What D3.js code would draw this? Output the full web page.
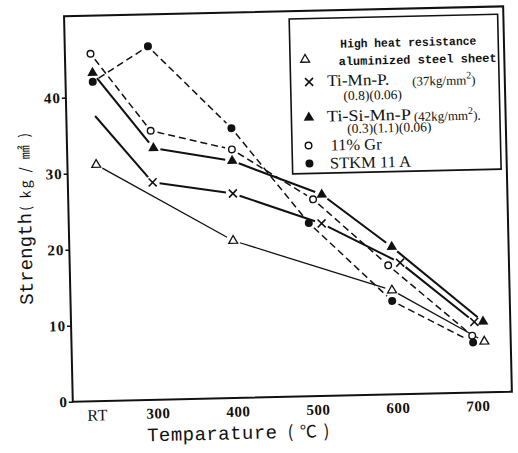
<!DOCTYPE html>
<html>
<head>
<meta charset="utf-8">
<script src="https://cdn.jsdelivr.net/npm/d3@7"></script>
<style>
  body { margin: 0; background: #fff; }
</style>
</head>
<body>
<div id="chart"></div>
<script>
// ---- data ----
const tempTicks = [224, 300, 400, 500, 600, 700];
const tempLabels = ["RT", "300", "400", "500", "600", "700"];
const strengthTicks = [0, 10, 20, 30, 40];

// High heat resistance aluminized steel sheet (open triangle)
const alumTemps = [230, 399, 596, 710];
const alumValues = [31.1, 20.7, 13.7, 6.7];
// Ti-Mn-P (cross), the RT end has no symbol in the figure
const tiMnPTemps = [230, 300, 400, 510, 607, 698];
const tiMnPValues = [37.5, 28.6, 26.9, 22.7, 17.3, 9.3];
const tiMnPMarked = [false, true, true, true, true, true];
// Ti-Si-Mn-P (filled triangle)
const tiSiTemps = [228, 302, 400, 511, 597, 709];
const tiSiValues = [43.2, 33.1, 31.2, 26.5, 19.4, 9.3];
// 11% Gr (open circle)
const grTemps = [226, 299, 400, 500, 592, 695];
const grValues = [45.7, 35.4, 32.7, 25.9, 17.0, 7.5];
// STKM 11 A (filled circle)
const stkmTemps = [228, 298, 400, 494, 596, 696];
const stkmValues = [42.0, 46.5, 35.5, 22.8, 12.3, 6.6];

const series = [
  { key: "alum", temps: alumTemps, values: alumValues, mark: "triOpen", dash: null, width: 1.3 },
  { key: "tiMnP", temps: tiMnPTemps, values: tiMnPValues, mark: "cross", dash: null, width: 2, marked: tiMnPMarked },
  { key: "tiSi", temps: tiSiTemps, values: tiSiValues, mark: "triFill", dash: null, width: 2.1 },
  { key: "gr", temps: grTemps, values: grValues, mark: "circOpen", dash: "7,4", width: 1.5 },
  { key: "stkm", temps: stkmTemps, values: stkmValues, mark: "circFill", dash: "7,4", width: 1.5 }
];

const W = 518, H = 453;

const svgRoot = d3.select("#chart")
  .append("svg")
  .attr("width", W)
  .attr("height", H);

// the scanned figure sits slightly tilted
const svg = svgRoot.append("g")
  .attr("transform", "rotate(-1.3, 288, 210)");

const x = d3.scaleLinear().domain([194, 743]).range([68.5, 507.7]);
const y = d3.scaleLinear().domain([0, 50.7]).range([396.8, 11.3]);

// Y axis
const yAxis = svg.append("g")
  .attr("transform", `translate(${x.range()[0]},0)`)
  .call(d3.axisLeft(y).tickValues(strengthTicks).tickSize(4).tickPadding(1).tickFormat(d3.format("d")));
yAxis.select(".domain").remove();
yAxis.selectAll("line").attr("stroke", "#111").attr("stroke-width", 1.6);
yAxis.selectAll("text")
  .attr("fill", "#111")
  .style("font-family", "'Liberation Serif', serif")
  .style("font-weight", "bold")
  .style("font-size", "15px")
  .style("letter-spacing", "1px");

// X axis (no tick marks in the original)
const xAxis = svg.append("g")
  .attr("transform", `translate(0,${y(0)})`)
  .call(d3.axisBottom(x).tickValues(tempTicks).tickSize(0).tickPadding(8)
    .tickFormat((d, i) => tempLabels[i]));
xAxis.select(".domain").remove();
xAxis.selectAll("text")
  .attr("fill", "#111")
  .style("font-family", "'Liberation Serif', serif")
  .style("font-weight", (d, i) => i === 0 ? "normal" : "bold")
  .style("font-size", (d, i) => i === 0 ? "16px" : "15px")
  .style("letter-spacing", "0.5px");

// frame
svg.append("rect")
  .attr("x", x.range()[0])
  .attr("y", y.range()[1])
  .attr("width", x.range()[1] - x.range()[0])
  .attr("height", y.range()[0] - y.range()[1])
  .attr("fill", "none")
  .attr("stroke", "#111")
  .attr("stroke-width", 2);

// symbol drawing
function drawMark(g, kind, cx, cy) {
  if (kind === "triOpen") {
    g.append("path").attr("d", d3.symbol(d3.symbolTriangle, 34)())
      .attr("transform", `translate(${cx},${cy})`)
      .attr("fill", "#fff").attr("stroke", "#111").attr("stroke-width", 1.3);
  } else if (kind === "triFill") {
    g.append("path").attr("d", d3.symbol(d3.symbolTriangle, 48)())
      .attr("transform", `translate(${cx},${cy})`)
      .attr("fill", "#111");
  } else if (kind === "circOpen") {
    g.append("circle").attr("cx", cx).attr("cy", cy).attr("r", 3.3)
      .attr("fill", "#fff").attr("stroke", "#111").attr("stroke-width", 1.4);
  } else if (kind === "circFill") {
    g.append("circle").attr("cx", cx).attr("cy", cy).attr("r", 4)
      .attr("fill", "#111");
  } else if (kind === "cross") {
    const s = 4;
    g.append("path")
      .attr("d", `M${cx - s},${cy - s}L${cx + s},${cy + s}M${cx - s},${cy + s}L${cx + s},${cy - s}`)
      .attr("stroke", "#111").attr("stroke-width", 1.6).attr("fill", "none");
  }
}

// lines drawn as separate segments that stop short of the symbols
const gap = 7;
series.forEach(function (s) {
  const g = svg.append("g");
  const pts = s.temps.map((t, i) => [x(t), y(s.values[i])]);
  const marked = s.marked || s.temps.map(() => true);
  for (let i = 0; i < pts.length - 1; i++) {
    const [x0, y0] = pts[i];
    const [x1, y1] = pts[i + 1];
    const len = Math.hypot(x1 - x0, y1 - y0);
    const ux = (x1 - x0) / len, uy = (y1 - y0) / len;
    const g0 = marked[i] ? gap : 0;
    const g1 = marked[i + 1] ? gap : 0;
    g.append("line")
      .attr("x1", x0 + ux * g0).attr("y1", y0 + uy * g0)
      .attr("x2", x1 - ux * g1).attr("y2", y1 - uy * g1)
      .attr("stroke", "#111")
      .attr("stroke-width", s.width)
      .attr("stroke-dasharray", s.dash);
  }
  pts.forEach(function (p, i) {
    if (marked[i]) drawMark(g, s.mark, p[0], p[1]);
  });
});

// axis titles
const xTitle = svg.append("text")
  .attr("x", 142)
  .attr("y", 438)
  .attr("fill", "#111")
  .style("font-family", "'Liberation Mono', monospace")
  .style("font-size", "19px");
xTitle.append("tspan").attr("textLength", 130).text("Temparature");
xTitle.append("tspan")
  .attr("dx", 10)
  .attr("textLength", 42)
  .style("font-family", "'Noto Sans CJK JP', 'Liberation Serif', serif")
  .style("font-size", "17px")
  .text("( ℃ )");

const yTitle = svg.append("text")
  .attr("transform", "translate(31,299) rotate(-90)")
  .attr("fill", "#111")
  .style("font-family", "'Liberation Mono', monospace")
  .style("font-size", "19px");
yTitle.append("tspan").attr("textLength", 92).text("Strength");
yTitle.append("tspan")
  .attr("dx", 2)
  .attr("textLength", 78)
  .style("font-family", "'Noto Sans CJK JP', 'Liberation Serif', serif")
  .style("font-size", "14px")
  .text("( kg / ㎟ )");

// legend
const lg = svg.append("g");
lg.append("rect")
  .attr("x", 293.5).attr("y", 19)
  .attr("width", 208.5).attr("height", 155)
  .attr("fill", "#fff")
  .attr("stroke", "#111")
  .attr("stroke-width", 1.6);

const mono = "'Liberation Mono', monospace";
const serif = "'Liberation Serif', serif";
function legendText(tx, ty, str, font, size, weight, tl) {
  const t = lg.append("text")
    .attr("x", tx).attr("y", ty)
    .attr("fill", "#111")
    .style("font-family", font)
    .style("font-size", size + "px")
    .style("font-weight", weight || "normal")
    .text(str);
  if (tl) t.attr("textLength", tl).attr("lengthAdjust", "spacingAndGlyphs");
  return t;
}

legendText(344, 49, "High heat resistance", mono, 12, "bold", 136);
legendText(342, 66.5, "aluminized steel sheet", mono, 12, "bold", 158);
drawMark(lg, "triOpen", 308.5, 60);

drawMark(lg, "cross", 312, 82.5);
legendText(330, 87, "Ti-Mn-P.", serif, 16, "normal", 62);
const t37 = legendText(415, 88.5, "(37kg/mm", serif, 13, "normal");
t37.append("tspan").attr("dy", -6).style("font-size", "10px").text("2");
t37.append("tspan").attr("dy", 6).text(")");
legendText(346, 101.5, "(0.8)(0.06)", serif, 13.5, "normal");

drawMark(lg, "triFill", 311, 118);
legendText(329, 122.5, "Ti-Si-Mn-P", serif, 16, "normal", 84);
const t42 = legendText(416, 124, "(42kg/mm", serif, 13, "normal");
t42.append("tspan").attr("dy", -6).style("font-size", "10px").text("2");
t42.append("tspan").attr("dy", 6).text(").");
legendText(349, 134.5, "(0.3)(1.1)(0.06)", serif, 13.5, "normal");

drawMark(lg, "circOpen", 310, 146);
legendText(332, 151.5, "11% Gr", serif, 16, "normal", 51);

drawMark(lg, "circFill", 310.5, 164);
legendText(331, 169.5, "STKM 11 A", serif, 16, "normal", 81);
</script>
</body>
